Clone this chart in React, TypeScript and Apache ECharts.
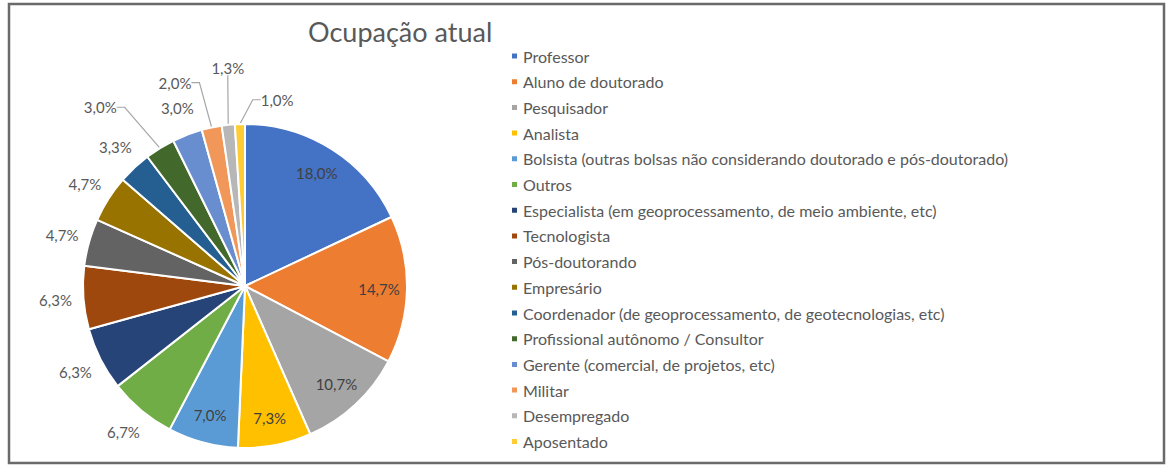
import React, { useEffect, useRef } from "react";
import * as echarts from "echarts";

const categories = [
  "Professor",
  "Aluno de doutorado",
  "Pesquisador",
  "Analista",
  "Bolsista (outras bolsas não considerando doutorado e pós-doutorado)",
  "Outros",
  "Especialista (em geoprocessamento, de meio ambiente, etc)",
  "Tecnologista",
  "Pós-doutorando",
  "Empresário",
  "Coordenador (de geoprocessamento, de geotecnologias, etc)",
  "Profissional autônomo / Consultor",
  "Gerente (comercial, de projetos, etc)",
  "Militar",
  "Desempregado",
  "Aposentado",
];

const percents = [18.0, 14.7, 10.7, 7.3, 7.0, 6.7, 6.3, 6.3, 4.7, 4.7, 3.3, 3.0, 3.0, 2.0, 1.3, 1.0];

const colors = [
  "#4472C4", "#ED7D31", "#A5A5A5", "#FFC000", "#5B9BD5", "#70AD47", "#264478", "#9E480E",
  "#636363", "#997300", "#255E91", "#43682B", "#698ED0", "#F1975A", "#B7B7B7", "#FFCD33",
];

const insideCount = 5;
const leaderIdx = [11, 13, 14, 15];
// label placement overrides (polar: degrees clockwise from top, radius px) for crowded labels
const labelPolarOverride: Record<number, [number, number]> = {
  11: [321, 230],
  13: [341, 215],
  14: [355.5, 219],
  15: [9.8, 189],
};
const FONT = "Lato, 'Open Sans', sans-serif";

const fmt = (p: any) => Number(p.value).toFixed(1).replace(".", ",") + "%";

export default function App() {
  const ref = useRef<HTMLDivElement>(null);
  useEffect(() => {
    if (!ref.current) return;
    const chart = echarts.init(ref.current, undefined, { renderer: "svg" });
    const center = [245, 286];
    const R = 162;
    const total = percents.reduce((a, b) => a + b, 0);
    const midAngles: number[] = [];
    let acc = 0;
    percents.forEach((v) => {
      midAngles.push(((acc + v / 2) / total) * 360);
      acc += v;
    });
    chart.setOption({
      animation: false,
      backgroundColor: "#ffffff",
      textStyle: { fontFamily: FONT },
      title: {
        text: "Ocupação atual",
        left: 303,
        top: 13,
        textStyle: { fontFamily: FONT, fontSize: 27, fontWeight: "normal", color: "#595959" },
      },
      legend: {
        orient: "vertical",
        left: 505,
        top: 41,
        icon: "rect",
        itemWidth: 7,
        itemHeight: 7,
        itemGap: 5.7,
        selectedMode: false,
        data: categories.map((c, i) => ({ name: c, itemStyle: { color: colors[i] } })),
        textStyle: { fontFamily: FONT, fontSize: 16, color: "#595959", lineHeight: 20 },
      },
      graphic: [
        {
          type: "rect",
          shape: { x: 9, y: 4, width: 1155, height: 459 },
          style: { fill: "none", stroke: "#6a6a6a", lineWidth: 2.5 },
          silent: true,
        },
      ],
      series: [
        {
          type: "pie",
          center,
          radius: R,
          startAngle: 90,
          clockwise: true,
          avoidLabelOverlap: false,
          itemStyle: { borderColor: "#ffffff", borderWidth: 2 },
          label: {
            show: true,
            position: "outside",
            formatter: fmt,
            fontFamily: FONT,
            fontSize: 15,
            color: "#595959",
          },
          labelLine: { show: false, length: 8, length2: 8, lineStyle: { color: "#a6a6a6", width: 1.2 } },
          labelLayout: (p: any) => {
            const i = p.dataIndex;
            if (i < insideCount) return {};
            const ov = labelPolarOverride[i];
            const ang = ov ? ov[0] : midAngles[i];
            const r = ov ? ov[1] : 190;
            const rad = (ang * Math.PI) / 180;
            return {
              x: center[0] + r * Math.sin(rad),
              y: center[1] - r * Math.cos(rad),
              align: "center",
              verticalAlign: "middle",
            };
          },
          data: categories.map((c, i) => ({
            name: c,
            value: percents[i],
            itemStyle: { color: colors[i] },
            label: { show: i >= insideCount },
            labelLine: { show: leaderIdx.includes(i) },
          })),
        },
        {
          type: "pie",
          center,
          radius: [100, R],
          startAngle: 90,
          clockwise: true,
          silent: true,
          itemStyle: { color: "rgba(0,0,0,0)" },
          label: {
            show: true,
            position: "inside",
            formatter: fmt,
            fontFamily: FONT,
            fontSize: 15,
            color: "#404040",
          },
          labelLine: { show: false },
          data: categories.map((c, i) => ({
            name: c,
            value: percents[i],
            label: { show: i < insideCount },
          })),
        },
      ],
    });
    return () => chart.dispose();
  }, []);
  return (
    <div
      ref={ref}
      style={{ position: "absolute", left: 0, top: 0, width: 1168, height: 466 }}
    />
  );
}
